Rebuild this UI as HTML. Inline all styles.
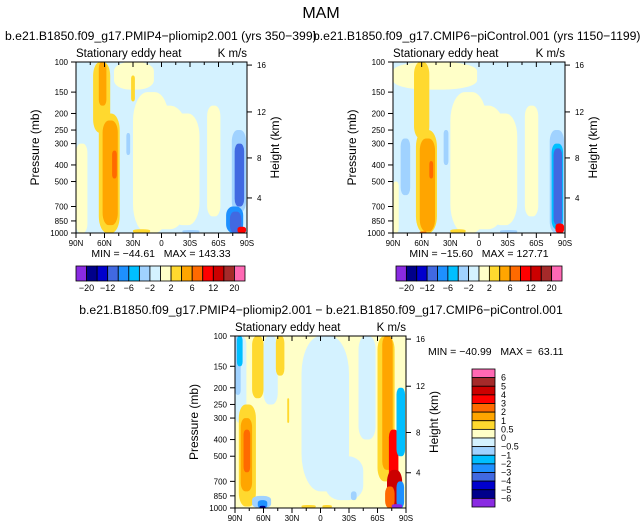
<!DOCTYPE html>
<html><head><meta charset="utf-8"><style>
body{margin:0;background:#fff;}
svg{display:block;font-family:"Liberation Sans",sans-serif;}
text{white-space:pre;}
</style></head><body>
<svg id="c" width="643" height="528" viewBox="0 0 643 528">
<text x="321" y="18" text-anchor="middle" font-size="16">MAM</text>
</svg>
<script>
const colors=["#8a2be2","#00008b","#0000cd","#4169e1","#1e90ff","#00bfff","#a0d2ff","#d4f2ff","#ffffc8","#ffd92f","#ffa500","#ff6a00","#ff0000","#cc0000","#a52a2a","#ff69b4"];
const latTicks=[90,60,30,0,-30,-60,-90];
const latLabels=["90N","60N","30N","0","30S","60S","90S"];
const presTicks=[100,150,200,250,300,400,500,700,850,1000];
const heightLabels=["16","12","8","4"];
const barLabels=["\u221220","\u221212","\u22126","\u22122","2","6","12","20"];
const diffLabels=["6","5","4","3","2","1","0.5","0","\u22120.5","\u22121","\u22122","\u22123","\u22124","\u22125","\u22126"];
// blobs: [lat0, lat1, pTop, pBottom, colorLevel]
const blobs1=[[90,78,300,1000,8],[50,8,100,145,8],[30,-8,150,1000,8],[22,-30,180,950,8],[-10,-40,200,900,8],[-48,-62,180,800,8],[10,-20,400,900,8],
[72,54,100,260,9],[66,44,200,1000,9],[66,58,100,180,10],[62,46,220,900,10],[52,47,330,480,11],[32,28,120,170,9],[30,12,950,1000,9],
[37,33,260,350,6],[-22,-40,960,1000,6],[-74,-89,250,760,6],[-77,-87,300,700,3],[-68,-86,700,1000,4],[-72,-84,750,1000,3],[-80,-89,920,1000,12]];
const blobs2=[[90,2,100,145,8],[30,-8,150,1000,8],[20,-30,180,950,8],[-10,-40,200,900,8],[-48,-62,180,800,8],[90,84,500,1000,8],[10,-20,400,900,8],
[68,52,100,280,9],[66,44,250,1000,9],[62,46,280,980,10],[52,48,380,480,11],[82,72,280,600,6],[37,32,250,400,6],[30,14,950,1000,9],[-22,-40,960,1000,6],
[-74,-89,250,1000,6],[-76,-88,300,950,5],[-78,-87,320,900,3],[-80,-89,880,1000,12],[62,55,980,1000,11]];
const blobs3=[[90,78,100,320,7],[90,84,100,220,6],[88,82,100,150,5],[60,45,100,250,7],[20,-30,100,800,7],[-5,-45,500,900,7],[-40,-58,100,400,7],
[72,60,100,230,9],[47,38,100,170,9],[35,33,230,320,9],
[86,68,250,980,9],[84,72,300,800,10],[81,74,350,620,11],
[-60,-78,100,700,9],[-65,-76,100,600,10],[-72,-82,350,700,12],[-70,-86,600,980,13],[-68,-78,750,1000,11],[-80,-89,200,500,5],[-80,-88,700,1000,4],[-75,-86,950,1000,0],
[72,52,850,1000,6],[66,56,900,1000,4],[64,58,970,1000,1],[-32,-38,800,900,6],[20,5,960,1000,9],[-2,-12,960,1000,9]];
const svg=document.getElementById('c');
const NS="http://www.w3.org/2000/svg";
function el(t,a,p){const e=document.createElementNS(NS,t);for(const k in a)e.setAttribute(k,a[k]);(p||svg).appendChild(e);return e;}
function txt(x,y,s,size,anchor,p){const t=el('text',{x:x,y:y,'font-size':size,'text-anchor':anchor||'start'},p);t.textContent=s;return t;}
function panel(id,X0,Y0,W,H,bg,blobs,sub,subX){
  const xs=lat=>X0+(90-lat)/180*W;
  const ys=p=>Y0+Math.log10(p/100)*H;
  const g=el('g',{});
  
  
  const cid='clip'+id;
  const cp=el('clipPath',{id:cid},g);el('rect',{x:X0,y:Y0,width:W,height:H},cp);
  const f=el('g',{'clip-path':'url(#'+cid+')'},g);
  const bgr=el('rect',{x:X0,y:Y0,width:W,height:H,fill:colors[bg]},f);
  
  
  blobs.forEach(b=>{const x0=xs(b[0]),x1=xs(b[1]),y0=ys(b[2]),y1=ys(b[3]);
    const w=x1-x0,h=y1-y0;
    const r=el('rect',{x:x0,y:y0,width:w,height:h,rx:w/2.5,ry:Math.min(h/3,w*0.8),fill:colors[b[4]]},f);
    
    });
  el('rect',{x:X0,y:Y0,width:W,height:H,fill:'none',stroke:'#000','stroke-width':1},g);
  for(let l=90;l>=-90;l-=15){const x=xs(l),L=(l%30===0)?5:3;
    el('line',{x1:x,x2:x,y1:Y0,y2:Y0+L,stroke:'#000'},g);
    el('line',{x1:x,x2:x,y1:Y0+H,y2:Y0+H+L,stroke:'#000'},g);}
  latTicks.forEach((l,i)=>{const t=txt(xs(l),Y0+H+13,latLabels[i],8,'middle',g);
    });
  presTicks.forEach(p=>{const y=ys(p);el('line',{x1:X0-5,x2:X0,y1:y,y2:y,stroke:'#000'},g);
    const t=txt(X0-8,y+3,String(p),8,'end',g);
    });
  const hf=[0.018,0.292,0.561,0.795];
  heightLabels.forEach((h,i)=>{const y=Y0+hf[i]*H;el('line',{x1:X0+W,x2:X0+W+5,y1:y,y2:y,stroke:'#000'},g);
    const t=txt(X0+W+10,y+3,h,8,'start',g);
    });
  const yt=txt(0,0,'Pressure (mb)',12,'middle',g);yt.setAttribute('transform','translate('+(X0-37)+','+(Y0+H/2)+') rotate(-90)');
  
  const ht=txt(0,0,'Height (km)',12,'middle',g);ht.setAttribute('transform','translate('+(X0+W+32)+','+(Y0+H/2)+') rotate(-90)');
  
  const l1=txt(X0,Y0-5,'Stationary eddy heat',11.5,'start',g);
  const l2=txt(X0+W,Y0-5,'K m/s',11.5,'end',g);
  const s=txt(subX[0],subX[1],sub,12.2,subX[2],g);
  return g;
}
panel('panel-pliomip',76,62,171,171,7,blobs1,'b.e21.B1850.f09_g17.PMIP4\u2212pliomip2.001 (yrs 350\u2212399)',[5,40,'start']);
panel('panel-picontrol',393,62,172,171,7,blobs2,'b.e21.B1850.f09_g17.CMIP6\u2212piControl.001 (yrs 1150\u22121199)',[313,40,'start']);
panel('panel-difference',235,336,171,172,8,blobs3,'b.e21.B1850.f09_g17.PMIP4\u2212pliomip2.001 \u2212 b.e21.B1850.f09_g17.CMIP6\u2212piControl.001',[321,314,'middle']);
function mm(x,y,s,a){const t=txt(x,y,s,10.5,a||'middle');}
mm(161,257,'MIN = \u221244.61   MAX = 143.33');
mm(479,257,'MIN = \u221215.60   MAX = 127.71');
mm(428,355,'MIN = \u221240.99   MAX =  63.11','start');
function hbar(X0,Y0,W,H,name){const g=el('g',{});
  const bw=W/colors.length;
  colors.forEach((c,i)=>{el('rect',{x:X0+i*bw,y:Y0,width:bw,height:H,fill:c,stroke:'#000','stroke-width':0.8},g);});
  barLabels.forEach((s,i)=>{const t=txt(X0+(i*2+1)*bw,Y0+H+10,s,9,'middle',g);
    });}
hbar(76,266,169,15,'colorbar-pliomip');
hbar(396,266,166,15,'colorbar-picontrol');
(function(){const g=el('g',{});
  const X0=472,Y0=369,W=23,H=138,bh=H/colors.length;
  colors.slice().reverse().forEach((c,i)=>{el('rect',{x:X0,y:Y0+i*bh,width:W,height:bh,fill:c,stroke:'#000','stroke-width':0.8},g);});
  diffLabels.forEach((s,i)=>{const t=txt(X0+W+6,Y0+(i+1)*bh+3,s,9,'start',g);
    });})();
</script>
</body></html>
